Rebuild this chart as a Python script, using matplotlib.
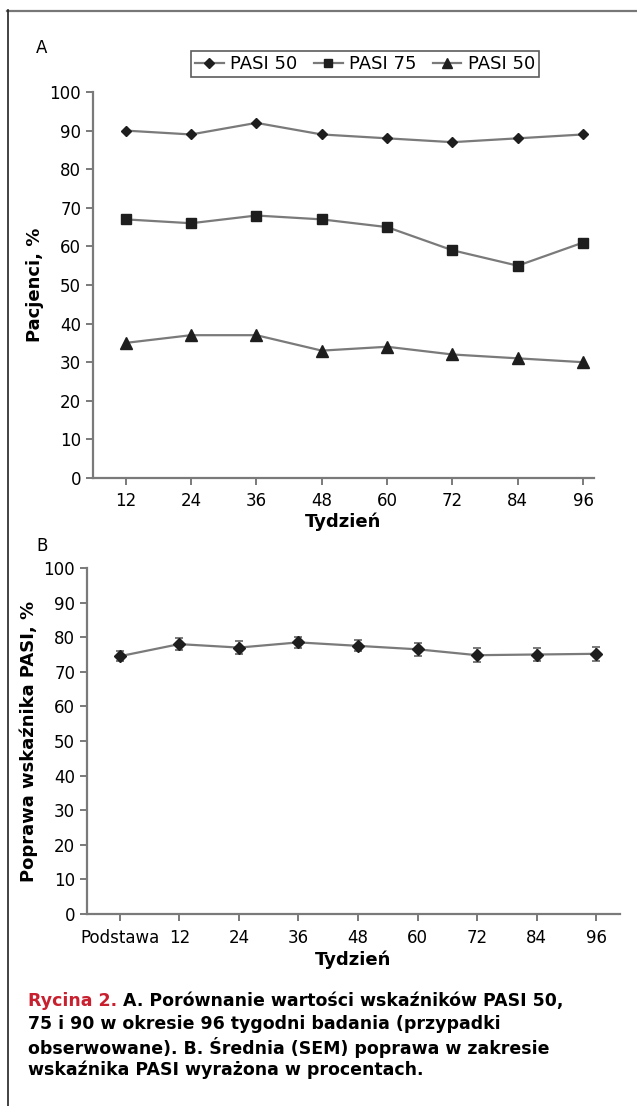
import matplotlib
matplotlib.use('Agg')
import matplotlib.pyplot as plt
from matplotlib.lines import Line2D

plt.rcParams['font.family'] = ['DejaVu Sans']

# Panel A data
weeks_a = [12, 24, 36, 48, 60, 72, 84, 96]
pasi50 = [90, 89, 92, 89, 88, 87, 88, 89]
pasi75 = [67, 66, 68, 67, 65, 59, 55, 61]
pasi90 = [35, 37, 37, 33, 34, 32, 31, 30]
legend_labels = ["PASI 50", "PASI 75", "PASI 50"]

# Panel B data
weeks_b = ["Podstawa", "12", "24", "36", "48", "60", "72", "84", "96"]
improvement = [74.5, 78.0, 77.0, 78.5, 77.5, 76.5, 74.8, 75.0, 75.2]
sem = [1.5, 1.8, 1.8, 1.6, 1.6, 1.8, 2.0, 1.8, 2.0]

line_c = '#7a7a7a'
mark_c = '#1e1e1e'
axis_c = '#7a7a7a'

W, H = 637, 1106
fig = plt.figure(figsize=(W / 100, H / 100), dpi=100)


def px_axes(left, top, right, bottom):
    return fig.add_axes([left / W, 1 - bottom / H, (right - left) / W, (bottom - top) / H])


def style(ax):
    for s in ['top', 'right']:
        ax.spines[s].set_visible(False)
    for s in ['left', 'bottom']:
        ax.spines[s].set_color(axis_c)
        ax.spines[s].set_linewidth(1.6)
    ax.tick_params(colors=axis_c, labelcolor='black', width=1.4, length=5, labelsize=12)
    ax.set_ylim(0, 100)
    ax.set_yticks(range(0, 101, 10))


# ---- Panel A ----
axA = px_axes(93, 92, 594, 478)
style(axA)
kw = dict(color=line_c, lw=1.6, markerfacecolor=mark_c, markeredgecolor=mark_c)
axA.plot(weeks_a, pasi50, marker='D', ms=5, **kw)
axA.plot(weeks_a, pasi75, marker='s', ms=7.5, **kw)
axA.plot(weeks_a, pasi90, marker='^', ms=8.5, **kw)
axA.set_xlim(6, 98)
axA.set_xticks(weeks_a)
axA.tick_params(axis='x', pad=5)
axA.set_ylabel("Pacjenci, %", fontsize=13, fontweight='bold', labelpad=4)
axA.set_xlabel("Tydzień", fontsize=13, fontweight='bold', labelpad=2)

handles = [Line2D([], [], marker=m, ms=s, **kw) for m, s in [('D', 5), ('s', 6), ('^', 7)]]
leg = fig.legend(handles, legend_labels, loc='center', bbox_to_anchor=(365 / W, 1 - 64 / H),
                 ncol=3, frameon=True, fancybox=False, fontsize=13, handlelength=1.6,
                 handletextpad=0.35, columnspacing=0.9, borderpad=0.2)
leg.get_frame().set_edgecolor('#333333')
leg.get_frame().set_linewidth(1.2)

fig.text(36 / W, 1 - 48 / H, "A", fontsize=12, va='center')

# ---- Panel B ----
axB = px_axes(87, 568, 620, 914)
style(axB)
xb = range(len(weeks_b))
axB.errorbar(xb, improvement, yerr=sem, fmt='-', color=line_c, lw=1.6, marker='D', ms=6,
             markerfacecolor=mark_c, markeredgecolor=mark_c, ecolor=line_c, elinewidth=1.4,
             capsize=3, capthick=1.4)
axB.set_xlim(-0.55, 8.4)
axB.set_xticks(list(xb))
axB.set_xticklabels(weeks_b)
axB.tick_params(axis='x', pad=6)
axB.set_ylabel("Poprawa wskaźnika PASI, %", fontsize=13, fontweight='bold', labelpad=4)
axB.set_xlabel("Tydzień", fontsize=13, fontweight='bold', labelpad=2)

fig.text(36 / W, 1 - 546 / H, "B", fontsize=12, va='center')

# ---- caption ----
cap_lines = ["A. Porównanie wartości wskaźników PASI 50,",
             "75 i 90 w okresie 96 tygodni badania (przypadki",
             "obserwowane). B. Średnia (SEM) poprawa w zakresie",
             "wskaźnika PASI wyrażona w procentach."]
y0 = 1001
lh = 23
t = fig.text(28 / W, 1 - y0 / H, "Rycina 2. ", color='#c8202f', fontsize=12.5,
             fontweight='bold', va='center')
fig.canvas.draw()
bb = t.get_window_extent()
fig.text(bb.x1 / W, 1 - y0 / H, cap_lines[0], fontsize=12.5, fontweight='bold', va='center')
for i, line in enumerate(cap_lines[1:], start=1):
    fig.text(28 / W, 1 - (y0 + i * lh) / H, line, fontsize=12.5, fontweight='bold', va='center')

# ---- frame lines ----
fig.add_artist(Line2D([7 / W, 1], [1 - 10.5 / H, 1 - 10.5 / H], color='#777777', lw=1.6,
                      transform=fig.transFigure))
fig.add_artist(Line2D([7.5 / W, 7.5 / W], [0, 1 - 10 / H], color='#222222', lw=1.2,
                      transform=fig.transFigure))

fig.savefig("out.png", dpi=100)
